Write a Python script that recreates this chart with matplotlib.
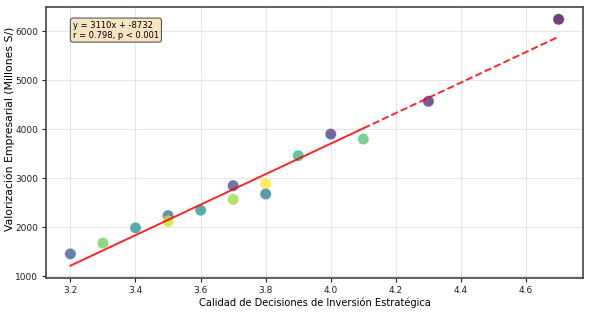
import matplotlib
matplotlib.use("Agg")
import matplotlib.pyplot as plt
import numpy as np

# Data
calidad = [3.2, 3.3, 3.4, 3.5, 3.5, 3.6, 3.7, 3.7, 3.8, 3.8, 3.9, 4.0, 4.1, 4.3, 4.7]
valorizacion = [1460, 1680, 1990, 2240, 2120, 2350, 2850, 2570, 2890, 2680, 3460, 3900, 3800, 4570, 6240]
color_val = [0.28, 0.78, 0.50, 0.35, 0.92, 0.52, 0.22, 0.85, 1.00, 0.40, 0.65, 0.15, 0.72, 0.10, 0.00]

slope = 3110
intercept = -8732
r_val = 0.798
fit_split = 4.1

xlabel = "Calidad de Decisiones de Inversión Estratégica"
ylabel = "Valorización Empresarial (Millones S/)"
yticks = [1000, 2000, 3000, 4000, 5000, 6000]
xticks = [3.2, 3.4, 3.6, 3.8, 4.0, 4.2, 4.4, 4.6]

fig = plt.figure(figsize=(5.89, 3.12), dpi=100)
ax = fig.add_axes([46/589, 1-278/312, (583-46)/589, (278-7)/312])

ax.scatter(calidad, valorizacion, c=color_val, cmap="viridis", s=66, alpha=0.75,
           edgecolors="white", linewidths=0.3, zorder=2)

x_solid = np.array([min(calidad), fit_split])
x_dash = np.array([fit_split, max(calidad)])
ax.plot(x_solid, slope * x_solid + intercept, color="red", lw=1.4, alpha=0.85, zorder=3)
ax.plot(x_dash, slope * x_dash + intercept, color="red", lw=1.4, ls="--", alpha=0.85, zorder=3)

ax.text(0.05, 0.95, f"y = {slope}x + {intercept}\nr = {r_val:.3f}, p < 0.001",
        transform=ax.transAxes, fontsize=6.0, va="top", ha="left", linespacing=1.15,
        bbox=dict(boxstyle="round,pad=0.3", facecolor="wheat", alpha=0.8, edgecolor="#333333", lw=0.8))

ax.set_xticks(xticks)
ax.set_yticks(yticks)
ax.tick_params(labelsize=6.5, length=3, width=0.8, colors="#222222", pad=2.5)
ax.set_xlabel(xlabel, fontsize=7.1, labelpad=2)
ax.set_ylabel(ylabel, fontsize=7.8)
ax.yaxis.set_label_coords(-0.058, 0.55)
ax.grid(True, alpha=0.3, color="#b0b0b0", lw=0.8)
ax.set_axisbelow(True)
for sp in ax.spines.values():
    sp.set_color("#444444")
    sp.set_linewidth(1.2)

fig.savefig("out.png", dpi=100)
